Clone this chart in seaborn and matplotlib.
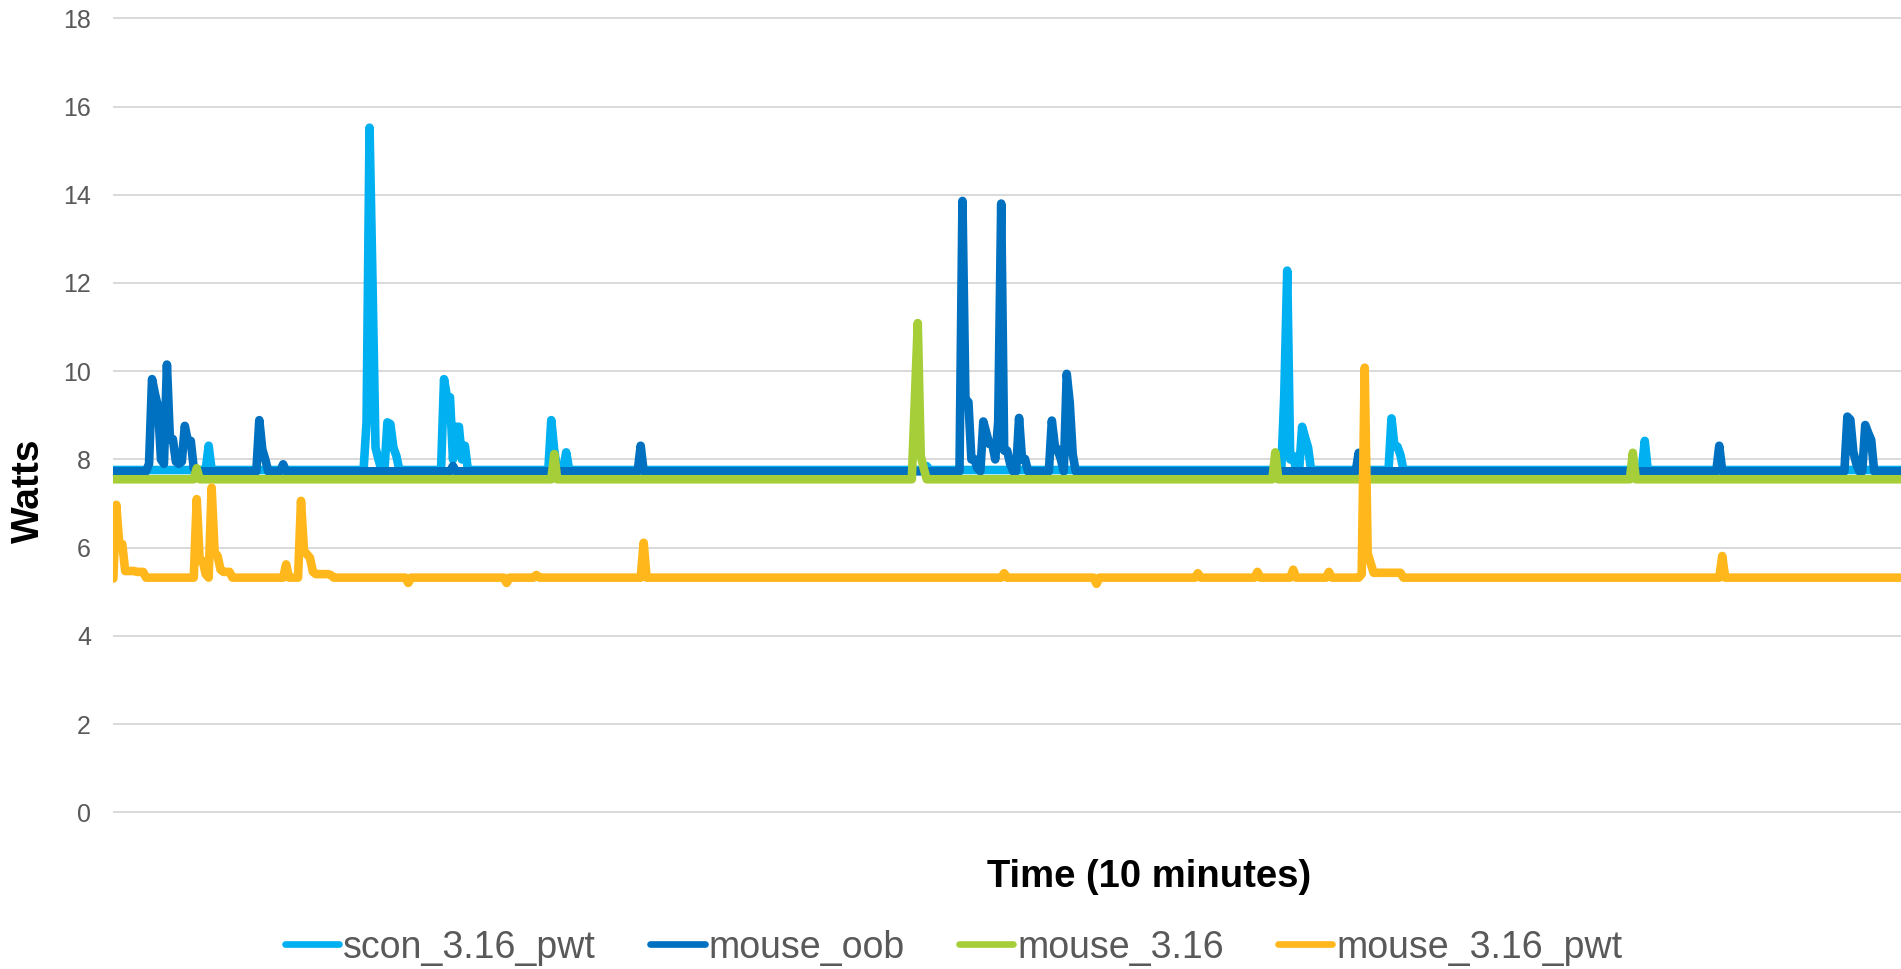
import numpy as np
import pandas as pd
import matplotlib
matplotlib.use("Agg")
import matplotlib.pyplot as plt
import seaborn as sns
from matplotlib.lines import Line2D

# ---------------- data ----------------
series_names = ["scon_3.16_pwt", "mouse_oob", "mouse_3.16", "mouse_3.16_pwt"]
series_colors = ["#00B0F0", "#0070C0", "#A6CE39", "#FFB71B"]
y_ticks = [0, 2, 4, 6, 8, 10, 12, 14, 16, 18]
x_label = "Time (10 minutes)"
y_label = "Watts"

n_seconds = 601  # one sample per second over 10 minutes

# scon_3.16_pwt : idle level + samples that differ from it
scon_base = 7.76
scon_t = [32, 85, 86, 87, 88, 89, 92, 93, 94, 95,
          111, 112, 113, 114, 115, 116, 117, 118,
          147, 148, 152, 273,
          393, 394, 395, 396, 399, 400, 401,
          429, 430, 431, 432, 514]
scon_w = [8.31, 8.85, 15.52, 12.02, 8.27, 8.00, 8.84, 8.80, 8.27, 8.08,
          9.82, 9.41, 9.41, 8.00, 8.74, 8.74, 8.00, 8.31,
          8.89, 8.20, 8.16, 7.85,
          9.44, 12.28, 8.00, 8.08, 8.74, 8.50, 8.27,
          8.93, 8.29, 8.29, 8.10, 8.42]

# mouse_oob
oob_base = 7.73
oob_t = [12, 13, 14, 15, 16, 17, 18, 19, 20, 21, 22, 23, 24, 25, 26, 27,
         49, 50, 51, 57, 114, 177,
         285, 286, 287, 288, 289, 290,
         292, 293, 294, 295, 296, 297, 298, 299, 300, 301,
         304, 305, 306, 315, 316, 317, 318, 320, 321, 322,
         418, 539,
         582, 583, 584, 585, 588, 589, 590]
oob_w = [7.90, 9.82, 9.48, 9.20, 8.00, 7.90, 10.15, 8.46, 8.46, 7.95, 7.90, 7.95, 8.76, 8.42, 8.42, 7.80,
         8.89, 8.23, 8.00, 7.89, 7.85, 8.31,
         13.86, 9.37, 9.30, 8.00, 8.01, 7.80,
         8.86, 8.60, 8.35, 8.35, 8.00, 8.86, 13.80, 8.20, 8.20, 7.90,
         8.94, 8.00, 8.01, 8.88, 8.31, 8.20, 8.01, 9.94, 9.29, 8.12,
         8.15, 8.31,
         8.97, 8.90, 8.17, 7.90, 8.78, 8.60, 8.44]

# mouse_3.16
m316_base = 7.55
m316_t = [28, 148, 269, 270, 271, 272, 390, 510]
m316_w = [7.80, 8.12, 9.33, 11.09, 8.08, 7.80, 8.16, 8.15]

# mouse_3.16_pwt
pwt_base = 5.32
pwt_t = [0, 1, 2, 3, 4, 5, 6, 7, 8, 9, 10,
         28, 29, 30, 31, 33, 34, 35, 36, 37, 38, 39,
         58, 63, 64, 65, 66, 67, 68, 69, 70, 71, 72, 73,
         99, 132, 142, 178, 299, 330, 364, 384, 396, 408,
         419, 420, 421, 422, 423, 424, 425, 426, 427, 428, 429, 430, 431, 432,
         540]
pwt_w = [5.30, 6.97, 6.08, 6.08, 5.47, 5.47, 5.47, 5.47, 5.45, 5.45, 5.45,
         7.10, 5.70, 5.70, 5.40, 7.36, 5.90, 5.81, 5.50, 5.45, 5.45, 5.45,
         5.62, 7.06, 5.93, 5.85, 5.77, 5.45, 5.40, 5.40, 5.40, 5.40, 5.40, 5.38,
         5.20, 5.20, 5.38, 6.11, 5.42, 5.18, 5.42, 5.45, 5.50, 5.45,
         5.40, 10.08, 5.87, 5.65, 5.43, 5.43, 5.43, 5.43, 5.43, 5.43, 5.43, 5.43, 5.43, 5.43,
         5.81]


def build(base, t, w):
    y = np.full(n_seconds, base, dtype=float)
    y[np.asarray(t)] = w
    return y


seconds = np.arange(n_seconds)
frames = []
for name, (b, t, w) in zip(series_names, [(scon_base, scon_t, scon_w),
                                           (oob_base, oob_t, oob_w),
                                           (m316_base, m316_t, m316_w),
                                           (pwt_base, pwt_t, pwt_w)]):
    frames.append(pd.DataFrame({"t": seconds, "watts": build(b, t, w), "series": name}))
df = pd.concat(frames, ignore_index=True)

# ---------------- figure ----------------
sns.set_style("white")
plt.rcParams["font.family"] = ["Liberation Sans", "DejaVu Sans"]

W, H = 1901, 969
fig = plt.figure(figsize=(W / 100, H / 100), dpi=100)

# axes: 0 W at y=812.3 px, 18 W at y=18.3 px, left edge 113.3 px
unit = (812.3 - 18.3) / 18.0
ylo, yhi = -0.3, 18.3
bot_px = 812.3 + (0 - ylo) * unit
top_px = 18.3 - (yhi - 18) * unit
left = 113.3 / W
ax = fig.add_axes([left, 1 - bot_px / H, 1 - left, (bot_px - top_px) / H])

palette = dict(zip(series_names, series_colors))
sns.lineplot(data=df, x="t", y="watts", hue="series", hue_order=series_names,
             palette=palette, ax=ax, legend=False, sort=False, estimator=None,
             linewidth=6.2, solid_capstyle="round", solid_joinstyle="round")
for ln in ax.get_lines():
    ln.set_linewidth(6.2)
    ln.set_solid_capstyle("round")
    ln.set_solid_joinstyle("round")

ax.set_xlim(0, n_seconds - 1)
ax.set_ylim(ylo, yhi)
ax.set_yticks(y_ticks)
ax.set_yticklabels([str(v) for v in y_ticks])
ax.set_xticks([])
ax.set_xlabel("")
ax.set_ylabel("")
for s in ax.spines.values():
    s.set_visible(False)
ax.yaxis.grid(True, color="#D9D9D9", linewidth=1.4)
ax.xaxis.grid(False)
ax.set_axisbelow(True)
ax.tick_params(axis="y", length=0, pad=16, labelsize=18, labelcolor="#595959")

fig.text(28.5 / W, 1 - 491 / H, y_label, rotation=90, ha="center", va="center",
         fontsize=28, fontweight="bold", color="black")
fig.text(1149 / W, 1 - 877 / H, x_label, ha="center", va="center",
         fontsize=27.5, fontweight="bold", color="black")

handles = [Line2D([0], [0], color=c, lw=4.8, solid_capstyle="round") for c in series_colors]
fig.legend(handles, series_names, loc="center", bbox_to_anchor=(953.5 / W, 1 - 947.5 / H),
           ncol=4, frameon=False, fontsize=27, labelcolor="#595959",
           handlelength=1.45, handletextpad=0.1, columnspacing=1.45,
           borderpad=0, borderaxespad=0)

fig.savefig("out.png", dpi=100)
